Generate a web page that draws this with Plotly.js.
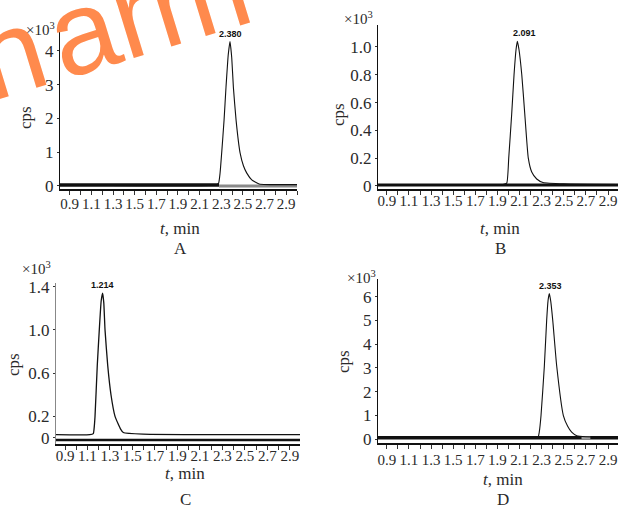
<!DOCTYPE html>
<html>
<head>
<meta charset="utf-8">
<script src="https://cdn.plot.ly/plotly-3.0.1.min.js"></script>
<style>html,body{margin:0;padding:0;background:#fff;}#chart{width:618px;height:508px;}</style>
</head>
<body>
<div id="chart"></div>
<script>
// ---------- data (cps ×10³ vs t, min) ----------
const xTickVals = [0.9, 1.1, 1.3, 1.5, 1.7, 1.9, 2.1, 2.3, 2.5, 2.7, 2.9];
const xTickText = ["0.9", "1.1", "1.3", "1.5", "1.7", "1.9", "2.1", "2.3", "2.5", "2.7", "2.9"];

const yTickValsA = [0, 1, 2, 3, 4];
const yTickTextA = ["0", "1", "2", "3", "4"];
const yTickValsB = [0, 0.2, 0.4, 0.6, 0.8, 1.0];
const yTickTextB = ["0", "0.2", "0.4", "0.6", "0.8", "1.0"];
const yTickValsC = [0, 0.2, 0.6, 1.0, 1.4];
const yTickTextC = ["0", "0.2", "0.6", "1.0", "1.4"];
const yTickValsD = [0, 1, 2, 3, 4, 5, 6];
const yTickTextD = ["0", "1", "2", "3", "4", "5", "6"];

// panel A
const tA = [0.81, 2.25, 2.275, 2.289, 2.304, 2.326, 2.344, 2.365, 2.381, 2.397, 2.412, 2.437, 2.474, 2.505, 2.536, 2.582, 2.65, 3.0];
const yA = [0.03, 0.03, 0.08, 0.38, 0.98, 1.95, 2.93, 3.9, 4.28, 3.8, 2.93, 1.95, 0.98, 0.6, 0.38, 0.18, 0.06, 0.04];
const baseBlackTA = [0.81, 2.28];
const baseBlackYA = [0.03, 0.03];
const baseGrayTA = [2.28, 3.0];
const baseGrayYA = [0.0, 0.0];

// panel B
const tB = [0.82, 1.95, 1.984, 2.002, 2.029, 2.05, 2.068, 2.08, 2.095, 2.12, 2.147, 2.179, 2.21, 2.255, 2.312, 2.5, 2.99];
const yB = [0.01, 0.01, 0.02, 0.2, 0.52, 0.8, 0.98, 1.04, 0.98, 0.8, 0.52, 0.2, 0.1, 0.05, 0.025, 0.015, 0.01];
const baseBlackTB = [0.82, 2.99];
const baseBlackYB = [0.007, 0.007];

// panel C
const tC = [0.82, 1.12, 1.152, 1.158, 1.167, 1.187, 1.205, 1.222, 1.235, 1.245, 1.256, 1.28, 1.309, 1.345, 1.396, 1.419, 1.594, 2.99];
const yC = [0.03, 0.03, 0.04, 0.08, 0.2, 0.67, 1.0, 1.27, 1.34, 1.25, 1.0, 0.67, 0.4, 0.2, 0.08, 0.05, 0.035, 0.03];
const baseBlackTC = [0.82, 2.99];
const baseBlackYC = [-0.02, -0.02];

// panel D
const tD = [0.82, 2.24, 2.269, 2.278, 2.294, 2.324, 2.345, 2.358, 2.369, 2.382, 2.40, 2.436, 2.496, 2.535, 2.571, 2.617, 2.7, 2.99];
const yD = [0.1, 0.1, 0.12, 0.3, 1.0, 3.07, 5.0, 5.85, 6.13, 5.8, 5.0, 3.07, 1.0, 0.55, 0.3, 0.15, 0.11, 0.1];
const baseBlackTD = [0.82, 2.99];
const baseBlackYD = [0.07, 0.07];
const baseGrayTD = [2.66, 2.74];
const baseGrayYD = [0.07, 0.07];

// peak labels (retention times)
const peakLabels = ["2.380", "2.091", "1.214", "2.353"];
const peakT = [2.381, 2.08, 1.235, 2.369];
const peakY = [4.28, 1.04, 1.34, 6.13];
const panelLetters = ["A", "B", "C", "D"];

// ---------- styling ----------
const SERIF = "Liberation Serif, Times New Roman, serif";
const TXT = "#2a2a2a";

function line(x, y, xa, ya, color, width, spline) {
  return {
    type: "scatter", mode: "lines", x: x, y: y, xaxis: xa, yaxis: ya,
    line: {color: color, width: width, shape: spline ? "spline" : "linear", smoothing: 0.45},
    hoverinfo: "skip", showlegend: false
  };
}

const data = [
  line(baseBlackTA, baseBlackYA, "x", "y", "#111", 3.5, false),
  line(baseGrayTA, baseGrayYA, "x", "y", "#8a8a8a", 3, false),
  line(tA, yA, "x", "y", "#111", 1.1, true),

  line(baseBlackTB, baseBlackYB, "x2", "y2", "#111", 3, false),
  line(tB, yB, "x2", "y2", "#111", 1.1, true),

  line(baseBlackTC, baseBlackYC, "x3", "y3", "#111", 2.5, false),
  line(tC, yC, "x3", "y3", "#111", 1.3, true),

  line(baseBlackTD, baseBlackYD, "x4", "y4", "#111", 3.5, false),
  line(baseGrayTD, baseGrayYD, "x4", "y4", "#999", 3, false),
  line(tD, yD, "x4", "y4", "#111", 1.1, true)
];

function xax(range, domain, anchor, standoff) {
  return {
    domain: domain, range: range, anchor: anchor,
    showline: true, linecolor: "#111", linewidth: 2,
    ticks: "outside", ticklen: 4, tickwidth: 1, tickcolor: "#333",
    tickmode: "array", tickvals: xTickVals, ticktext: xTickText, tickangle: 0,
    ticklabelstandoff: standoff,
    minor: {tickmode: "linear", tick0: 0.9, dtick: 0.1, ticks: "outside", ticklen: 4, tickcolor: "#333", showgrid: false},
    tickfont: {family: SERIF, size: 15, color: TXT},
    showgrid: false, zeroline: false, fixedrange: true
  };
}
function yax(range, domain, anchor, vals, text, lc) {
  return {
    domain: domain, range: range, anchor: anchor,
    showline: true, linecolor: lc || "#111", linewidth: 1,
    ticks: "outside", ticklen: 2, tickcolor: "#333",
    tickmode: "array", tickvals: vals, ticktext: text,
    tickfont: {family: SERIF, size: 17, color: TXT},
    showgrid: false, zeroline: false, fixedrange: true
  };
}

const W = 618, H = 508;
const px = v => v / W;
const py = v => 1 - v / H;

const layout = {
  width: W, height: H,
  margin: {l: 0, r: 0, t: 0, b: 0},
  paper_bgcolor: "#fff", plot_bgcolor: "rgba(0,0,0,0)",
  showlegend: false,
  xaxis: xax([0.81, 3.0], [px(60), px(297)], "y", -4),
  yaxis: yax([-0.09, 4.77], [py(189), py(25)], "x", yTickValsA, yTickTextA),
  xaxis2: xax([0.82, 2.99], [px(378), 1], "y2", -7),
  yaxis2: yax([-0.022, 1.158], [py(189), py(25)], "x2", yTickValsB, yTickTextB),
  xaxis3: xax([0.82, 2.99], [px(56), px(300)], "y3", -7),
  yaxis3: yax([-0.056, 1.434], [py(444), py(283)], "x3", yTickValsC, yTickTextC, "#888"),
  xaxis4: xax([0.82, 2.99], [px(378), 1], "y4", -2),
  yaxis4: yax([-0.155, 6.74], [py(443), py(279)], "x4", yTickValsD, yTickTextD),
  annotations: []
};

const ann = layout.annotations;
function textAt(x, y, text, size, extra) {
  ann.push(Object.assign({
    xref: "paper", yref: "paper", x: px(x), y: py(y), text: text, showarrow: false,
    xanchor: "center", yanchor: "middle",
    font: {family: SERIF, size: size, color: TXT}
  }, extra || {}));
}

// watermark (drawn first so chart texts sit above it)
ann.push({
  xref: "paper", yref: "paper", x: px(112), y: py(22), text: "n\u200Aarm", showarrow: false,
  xanchor: "center", yanchor: "middle", textangle: -17,
  font: {family: "Liberation Sans, Arial, sans-serif", size: 118, color: "#ff8a4d"}
});

// y-axis titles
textAt(25, 118, "cps", 17, {textangle: -90});
textAt(338, 115, "cps", 17, {textangle: -90});
textAt(13, 365, "cps", 17, {textangle: -90});
textAt(343, 362, "cps", 17, {textangle: -90});
// x-axis titles
textAt(180, 228, "<i>t</i>, min", 17);
textAt(500, 228, "<i>t</i>, min", 17);
textAt(185, 473, "<i>t</i>, min", 17);
textAt(503, 479, "<i>t</i>, min", 17);
// panel letters
textAt(180, 248, panelLetters[0], 17);
textAt(500, 248, panelLetters[1], 17);
textAt(185, 499, panelLetters[2], 17);
textAt(503, 499, panelLetters[3], 17);
// ×10³ multipliers
textAt(40, 29, "×10<sup>3</sup>", 15);
textAt(358, 18, "×10<sup>3</sup>", 15);
textAt(36, 268, "×10<sup>3</sup>", 15);
textAt(361, 277, "×10<sup>3</sup>", 15);

// peak labels at apex
const axPairs = [["x", "y"], ["x2", "y2"], ["x3", "y3"], ["x4", "y4"]];
const peakShiftX = [0, 7, 0, 1];
for (let i = 0; i < 4; i++) {
  ann.push({
    xref: axPairs[i][0], yref: axPairs[i][1], x: peakT[i], y: peakY[i],
    text: "<b>" + peakLabels[i] + "</b>", showarrow: false,
    xanchor: "center", yanchor: "bottom", yshift: 1, xshift: peakShiftX[i],
    font: {family: "Liberation Sans Narrow, Liberation Sans, sans-serif", size: 9, color: "#111"}
  });
}

Plotly.newPlot("chart", data, layout, {staticPlot: true, displayModeBar: false});
</script>
</body>
</html>
